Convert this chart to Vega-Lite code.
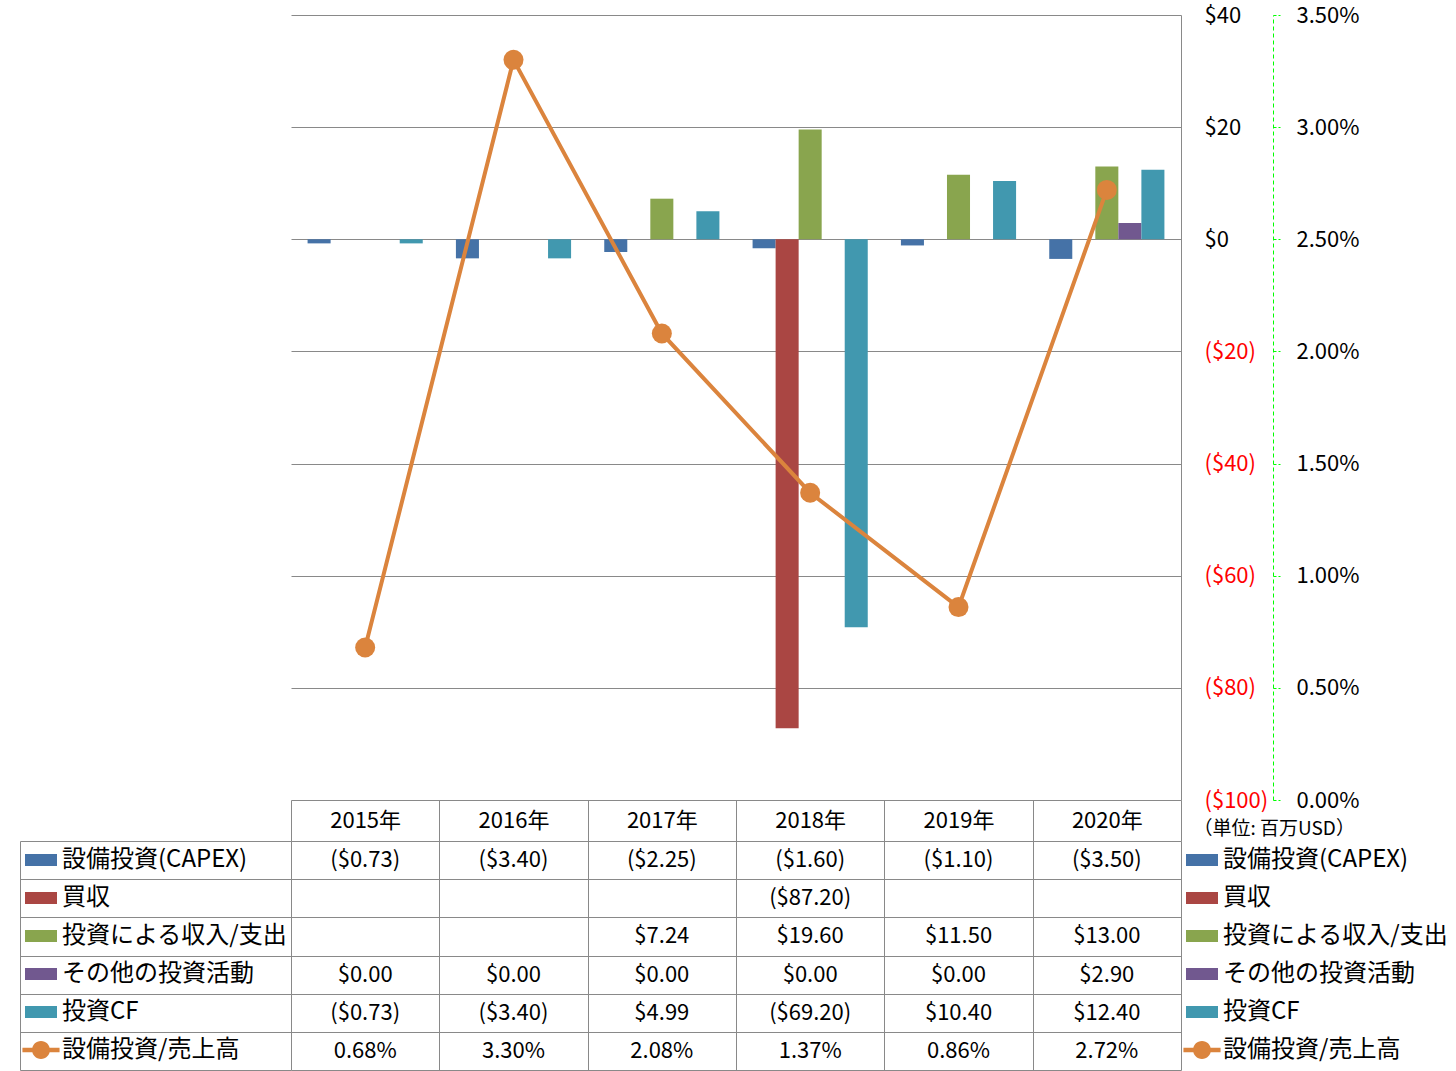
{
  "$schema": "https://vega.github.io/schema/vega-lite/v6.json",
  "padding": {"left": 19, "top": 4, "right": 0, "bottom": 0},
  "background": "white",
  "config": {
    "font": "Noto Sans CJK JP",
    "view": {"stroke": null},
    "axis": {"labelFont": "Noto Sans CJK JP", "labelColor": "#000000", "labelFontSize": 22}
  },
  "datasets": {
    "rows": [
      {"year": "2015年", "series": "設備投資(CAPEX)", "value": -0.73},
      {"year": "2016年", "series": "設備投資(CAPEX)", "value": -3.4},
      {"year": "2017年", "series": "設備投資(CAPEX)", "value": -2.25},
      {"year": "2018年", "series": "設備投資(CAPEX)", "value": -1.6},
      {"year": "2019年", "series": "設備投資(CAPEX)", "value": -1.1},
      {"year": "2020年", "series": "設備投資(CAPEX)", "value": -3.5},
      {"year": "2018年", "series": "買収", "value": -87.2},
      {"year": "2017年", "series": "投資による収入/支出", "value": 7.24},
      {"year": "2018年", "series": "投資による収入/支出", "value": 19.6},
      {"year": "2019年", "series": "投資による収入/支出", "value": 11.5},
      {"year": "2020年", "series": "投資による収入/支出", "value": 13.0},
      {"year": "2015年", "series": "その他の投資活動", "value": 0},
      {"year": "2016年", "series": "その他の投資活動", "value": 0},
      {"year": "2017年", "series": "その他の投資活動", "value": 0},
      {"year": "2018年", "series": "その他の投資活動", "value": 0},
      {"year": "2019年", "series": "その他の投資活動", "value": 0},
      {"year": "2020年", "series": "その他の投資活動", "value": 2.9},
      {"year": "2015年", "series": "投資CF", "value": -0.73},
      {"year": "2016年", "series": "投資CF", "value": -3.4},
      {"year": "2017年", "series": "投資CF", "value": 4.99},
      {"year": "2018年", "series": "投資CF", "value": -69.2},
      {"year": "2019年", "series": "投資CF", "value": 10.4},
      {"year": "2020年", "series": "投資CF", "value": 12.4},
      {"year": "2015年", "series": "設備投資/売上高", "value": 0.0068},
      {"year": "2016年", "series": "設備投資/売上高", "value": 0.033},
      {"year": "2017年", "series": "設備投資/売上高", "value": 0.0208},
      {"year": "2018年", "series": "設備投資/売上高", "value": 0.0137},
      {"year": "2019年", "series": "設備投資/売上高", "value": 0.0086},
      {"year": "2020年", "series": "設備投資/売上高", "value": 0.0272}
    ]
  },
  "spacing": 41,
  "bounds": "flush",
  "resolve": {
    "scale": {"x": "independent", "y": "independent", "color": "independent", "shape": "independent", "fill": "independent"},
    "legend": {"color": "independent", "shape": "independent"}
  },
  "vconcat": [
    {
      "width": 890,
      "height": 785,
      "data": {"name": "rows"},
      "layer": [
        {
          "transform": [{"filter": "datum.series !== '設備投資/売上高'"}],
          "mark": {"type": "bar"},
          "encoding": {
            "x": {
              "field": "year", "type": "nominal",
              "scale": {"paddingInner": 0, "paddingOuter": 0},
              "axis": {"orient": "bottom", "title": null, "domain": false, "ticks": true, "tickBand": "extent", "tickSize": 41, "tickColor": "#898989", "labelAngle": 0, "labelBaseline": "middle", "labelPadding": -21, "labelFontSize": 22, "grid": false}
            },
            "xOffset": {
              "field": "series", "type": "nominal",
              "scale": {"domain": ["設備投資(CAPEX)", "買収", "投資による収入/支出", "その他の投資活動", "投資CF"], "paddingInner": 0, "paddingOuter": 0.72}
            },
            "y": {
              "field": "value", "type": "quantitative",
              "scale": {"domain": [-100, 40], "nice": false},
              "axis": {
                "orient": "right",
                "title": "（単位: 百万USD）", "titleAngle": 0, "titleX": 12, "titleY": 813, "titleAlign": "left", "titleBaseline": "middle", "titleFontSize": 19, "titleFontWeight": "normal", "titleColor": "#000000", "titleFont": "Noto Sans CJK JP",
                "domain": true, "domainColor": "#898989",
                "ticks": false,
                "grid": true, "gridColor": "#898989",
                "values": [-100, -80, -60, -40, -20, 0, 20, 40],
                "labelPadding": 23, "labelAlign": "left",
                "labelExpr": "datum.value < 0 ? '($' + format(-datum.value, 'd') + ')' : '$' + format(datum.value, 'd')",
                "labelColor": {"condition": {"test": "datum.value < 0", "value": "#FF0000"}, "value": "#000000"}
              }
            },
            "fill": {
              "field": "series", "type": "nominal",
              "scale": {"domain": ["設備投資(CAPEX)", "買収", "投資による収入/支出", "その他の投資活動", "投資CF", "設備投資/売上高"], "range": ["#4572A7", "#AA4643", "#89A54E", "#71588F", "#4198AF", "#DB843D"]},
              "legend": null
            }
          }
        },
        {
          "transform": [{"filter": "datum.series === '設備投資/売上高'"}],
          "mark": {"type": "line", "color": "#DB843D", "strokeWidth": 4, "point": {"filled": true, "size": 400, "color": "#DB843D", "opacity": 1}},
          "encoding": {
            "x": {"field": "year", "type": "nominal"},
            "y": {
              "field": "value", "type": "quantitative",
              "scale": {"domain": [0, 0.035], "nice": false},
              "axis": {
                "orient": "right", "offset": 92, "title": null,
                "domain": true, "domainColor": "#00FF00", "domainDash": [4, 3],
                "ticks": true, "tickSize": 7, "tickColor": "#00FF00", "tickDash": [3, 2],
                "grid": false,
                "values": [0, 0.005, 0.01, 0.015, 0.02, 0.025, 0.03, 0.035],
                "format": ".2%", "labelPadding": 16, "labelAlign": "left"
              }
            }
          }
        }
      ],
      "resolve": {"scale": {"y": "independent"}}
    },
    {
      "spacing": 0,
      "bounds": "flush",
      "resolve": {
        "scale": {"x": "independent", "y": "independent", "color": "independent", "shape": "independent"},
        "legend": {"color": "independent", "shape": "independent"}
      },
      "hconcat": [
        {
          "width": 890,
          "height": 229,
          "data": {"name": "rows"},
          "layer": [
            {
              "mark": {
                "type": "text", "fontSize": 22, "color": "#000000", "align": "center", "baseline": "middle",
                "text": {"expr": "datum.series === '設備投資/売上高' ? format(datum.value, '.2%') : (datum.value < 0 ? '($' + format(-datum.value, '.2f') + ')' : '$' + format(datum.value, '.2f'))"}
              },
              "encoding": {
                "x": {
                  "field": "year", "type": "nominal",
                  "scale": {"paddingInner": 0, "paddingOuter": 0},
                  "axis": {"orient": "top", "title": null, "labels": false, "ticks": false, "domain": false, "grid": true, "tickBand": "extent", "gridColor": "#898989"}
                },
                "y": {
                  "field": "series", "type": "nominal",
                  "scale": {"domain": ["設備投資(CAPEX)", "買収", "投資による収入/支出", "その他の投資活動", "投資CF", "設備投資/売上高"], "paddingInner": 0, "paddingOuter": 0},
                  "axis": {"orient": "left", "offset": 271, "title": null, "labels": false, "domain": true, "domainColor": "#898989", "ticks": true, "tickSize": -271, "tickColor": "#898989", "tickBand": "extent", "grid": true, "gridColor": "#898989"}
                }
              }
            },
            {
              "mark": {"type": "point", "filled": true, "opacity": 0},
              "encoding": {
                "color": {
                  "field": "series", "type": "nominal",
                  "scale": {"domain": ["設備投資(CAPEX)", "買収", "投資による収入/支出", "その他の投資活動", "投資CF", "設備投資/売上高"], "range": ["#4572A7", "#AA4643", "#89A54E", "#71588F", "#4198AF", "#DB843D"]},
                  "legend": {"orient": "none", "legendX": -266, "legendY": 3, "title": null, "symbolSize": 1024, "symbolStrokeWidth": 0, "symbolOpacity": 1, "symbolFillColor": "#000000", "labelFontSize": 24, "labelOffset": 5, "rowPadding": 10, "padding": 0, "labelLimit": 400, "labelColor": "#000000"}
                },
                "shape": {
                  "field": "series", "type": "nominal",
                  "scale": {"domain": ["設備投資(CAPEX)", "買収", "投資による収入/支出", "その他の投資活動", "投資CF", "設備投資/売上高"], "range": ["M-1,-0.375H1V0.375H-1Z", "M-1,-0.375H1V0.375H-1Z", "M-1,-0.375H1V0.375H-1Z", "M-1,-0.375H1V0.375H-1Z", "M-1,-0.375H1V0.375H-1Z", "M-1.16,-0.14H1.16V0.14H-1.16Z M0.56,0A0.56,0.56 0 1 1 -0.56,0A0.56,0.56 0 1 1 0.56,0Z"]},
                  "legend": {"orient": "none", "legendX": -266, "legendY": 3, "title": null, "symbolSize": 1024, "symbolStrokeWidth": 0, "symbolOpacity": 1, "symbolFillColor": "#000000", "labelFontSize": 24, "labelOffset": 5, "rowPadding": 10, "padding": 0, "labelLimit": 400, "labelColor": "#000000"}
                }
              }
            }
          ]
        },
        {
          "width": 270,
          "height": 229,
          "data": {"name": "rows"},
          "mark": {"type": "point", "filled": true, "opacity": 0},
          "encoding": {
            "color": {
              "field": "series", "type": "nominal",
              "scale": {"domain": ["設備投資(CAPEX)", "買収", "投資による収入/支出", "その他の投資活動", "投資CF", "設備投資/売上高"], "range": ["#4572A7", "#AA4643", "#89A54E", "#71588F", "#4198AF", "#DB843D"]},
              "legend": {"orient": "none", "legendX": 5, "legendY": 3, "title": null, "symbolSize": 1024, "symbolStrokeWidth": 0, "symbolOpacity": 1, "symbolFillColor": "#000000", "labelFontSize": 24, "labelOffset": 5, "rowPadding": 10, "padding": 0, "labelLimit": 400, "labelColor": "#000000"}
            },
            "shape": {
              "field": "series", "type": "nominal",
              "scale": {"domain": ["設備投資(CAPEX)", "買収", "投資による収入/支出", "その他の投資活動", "投資CF", "設備投資/売上高"], "range": ["M-1,-0.375H1V0.375H-1Z", "M-1,-0.375H1V0.375H-1Z", "M-1,-0.375H1V0.375H-1Z", "M-1,-0.375H1V0.375H-1Z", "M-1,-0.375H1V0.375H-1Z", "M-1.16,-0.14H1.16V0.14H-1.16Z M0.56,0A0.56,0.56 0 1 1 -0.56,0A0.56,0.56 0 1 1 0.56,0Z"]},
              "legend": {"orient": "none", "legendX": 5, "legendY": 3, "title": null, "symbolSize": 1024, "symbolStrokeWidth": 0, "symbolOpacity": 1, "symbolFillColor": "#000000", "labelFontSize": 24, "labelOffset": 5, "rowPadding": 10, "padding": 0, "labelLimit": 400, "labelColor": "#000000"}
            }
          }
        }
      ]
    }
  ]
}
